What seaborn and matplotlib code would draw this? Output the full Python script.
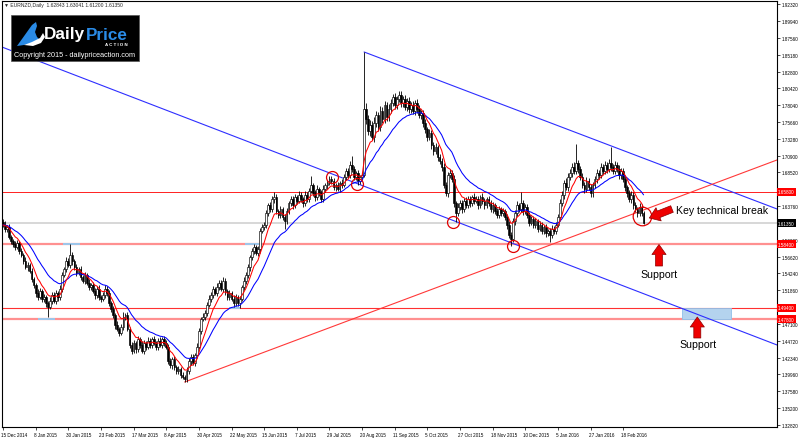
import numpy as np
import pandas as pd
import matplotlib
matplotlib.use("Agg")
import matplotlib.pyplot as plt
import seaborn as sns
from matplotlib.patches import Rectangle, Polygon
import matplotlib.transforms as mtransforms

# ---------------- data (prices in pips, 1 pip = 0.0001) ----------------
chart_title = "\u25bc EURNZD,Daily  1.62843 1.63041 1.61200 1.61350"
first_open = 16150
closes = [
    16110, 16055, 16080, 15940, 15885, 15840, 15800, 15855, 15740, 15685,
    15600, 15515, 15545, 15460, 15345, 15260, 15150, 15090, 15175, 15065,
    15090, 15005, 14950, 15035, 15120, 15035, 15150, 15090, 15205, 15400,
    15485, 15600, 15545, 15685, 15600, 15515, 15430, 15485, 15375, 15320,
    15400, 15290, 15235, 15260, 15175, 15120, 15205, 15090, 15065, 15120,
    15205, 15150, 15005, 14920, 14835, 14695, 14640, 14580, 14665, 14810,
    14835, 14640, 14415, 14330, 14440, 14355, 14495, 14415, 14330, 14440,
    14385, 14470, 14415, 14495, 14440, 14385, 14470, 14415, 14495, 14440,
    14385, 14185, 14130, 14215, 14100, 14045, 14075, 13990, 13960, 13930,
    14045, 14185, 14245, 14160, 14270, 14385, 14610, 14780, 14810, 14865,
    14980, 15065, 15120, 15205, 15150, 15235, 15290, 15205, 15320, 15175,
    15090, 15150, 15065, 15005, 15090, 15005, 15065, 15235, 15320, 15400,
    15515, 15655, 15740, 15800, 15715, 15770, 16025, 16080, 16110, 16280,
    16390, 16335, 16475, 16505, 16305, 16250, 16335, 16220, 16165, 16305,
    16420, 16475, 16390, 16505, 16450, 16535, 16475, 16420, 16535, 16475,
    16590, 16675, 16560, 16505, 16620, 16560, 16475, 16620, 16675, 16705,
    16760, 16730, 16645, 16675, 16620, 16705, 16675, 16790, 16875, 16815,
    16960, 16900, 16790, 16845, 16730, 16790, 16815, 17750, 17610, 17440,
    17525, 17355, 17550, 17665, 17495, 17720, 17610, 17805, 17635, 17750,
    17835, 17920, 17805, 17890, 17950, 17835, 17890, 17780, 17865, 17750,
    17805, 17720, 17835, 17750, 17665, 17695, 17550, 17465, 17355, 17410,
    17240, 17155, 17210, 17070, 17015, 16930, 16675, 16560, 16815, 16845,
    16760, 16420, 16280, 16365, 16420, 16335, 16450, 16390, 16475, 16420,
    16505, 16450, 16475, 16390, 16505, 16450, 16390, 16475, 16420, 16335,
    16390, 16305, 16250, 16335, 16280, 16305, 16220, 16110, 15970, 15910,
    16165, 16280, 16390, 16335, 16420, 16305, 16365, 16250, 16140, 16195,
    16110, 16165, 16055, 16110, 16025, 16080, 15995, 16025, 15970, 16055,
    16025, 16110, 16220, 16420, 16535, 16705, 16645, 16790, 16845, 16930,
    16875, 16985, 16900, 16790, 16675, 16620, 16730, 16645, 16560, 16675,
    16760, 16845, 16815, 16930, 16875, 16960, 16900, 16985, 16930, 16875,
    16960, 16900, 16815, 16875, 16760, 16645, 16560, 16475, 16535, 16390,
    16335, 16280, 16365, 16284, 16135,
]
upper_wick = [
    40, 55, 30, 45, 35, 25, 50, 40, 30, 45,
    35, 50, 40, 30, 45, 35, 25, 60, 40, 30,
    45, 35, 30, 50, 40, 35, 45, 30, 55, 40,
    35, 50, 45, 155, 40, 30, 45, 35, 50, 30,
    40, 35, 55, 30, 45, 40, 35, 50, 30, 45,
    60, 35, 40, 30, 45, 35, 50, 30, 40, 70,
    35, 45, 30, 40, 50, 35, 45, 30, 55, 40,
    35, 50, 40, 30, 45, 35, 40, 55, 30, 45,
    40, 35, 50, 30, 45, 35, 40, 30, 45, 35,
    50, 40, 35, 45, 30, 55, 40, 35, 50, 45,
    35, 60, 40, 45, 30, 50, 35, 45, 55, 40,
    35, 45, 30, 50, 40, 35, 45, 30, 55, 40,
    45, 35, 50, 40, 30, 45, 35, 50, 40, 45,
    35, 50, 40, 70, 45, 30, 50, 35, 40, 45,
    35, 50, 40, 45, 30, 55, 40, 35, 50, 45,
    40, 127, 35, 45, 50, 30, 40, 55, 35, 45,
    40, 42, 50, 35, 45, 30, 50, 40, 35, 45,
    50, 125, 40, 35, 45, 30, 40, 806, 90, 60,
    70, 50, 80, 60, 45, 70, 55, 60, 40, 65,
    50, 45, 60, 40, 54, 55, 45, 60, 40, 50,
    45, 55, 40, 50, 60, 45, 40, 55, 35, 50,
    45, 40, 55, 35, 50, 40, 60, 45, 50, 56,
    40, 55, 35, 50, 40, 45, 35, 50, 40, 45,
    35, 50, 40, 45, 30, 55, 40, 35, 50, 40,
    45, 35, 50, 40, 30, 45, 35, 40, 50, 35,
    45, 40, 55, 35, 156, 40, 45, 35, 50, 40,
    35, 45, 30, 50, 40, 35, 45, 30, 40, 50,
    35, 45, 40, 55, 60, 45, 70, 50, 60, 55,
    65, 270, 50, 45, 60, 40, 55, 45, 50, 40,
    45, 55, 40, 50, 45, 60, 40, 55, 227, 45,
    50, 40, 55, 45, 40, 50, 35, 45, 55, 40,
    45, 35, 50, 40, 20,
]
lower_wick = [
    35, 45, 40, 30, 50, 35, 40, 30, 45, 35,
    40, 30, 50, 35, 45, 40, 55, 35, 30, 45,
    40, 50, 142, 35, 45, 30, 40, 50, 35, 45,
    30, 40, 35, 45, 50, 35, 40, 30, 45, 35,
    50, 35, 40, 45, 30, 50, 40, 35, 45, 30,
    40, 50, 35, 45, 40, 55, 35, 45, 30, 40,
    50, 35, 45, 40, 30, 55, 40, 45, 35, 50,
    40, 35, 45, 50, 30, 40, 45, 35, 50, 40,
    35, 45, 40, 50, 35, 40, 45, 50, 35, 41,
    45, 40, 50, 35, 45, 40, 30, 45, 35, 40,
    45, 35, 50, 40, 30, 45, 40, 35, 45, 50,
    40, 45, 35, 50, 40, 45, 70, 35, 40, 45,
    35, 50, 40, 45, 35, 40, 50, 35, 45, 40,
    45, 40, 35, 50, 45, 40, 35, 45, 112, 40,
    45, 35, 50, 40, 45, 35, 40, 50, 35, 45,
    40, 35, 45, 50, 40, 45, 35, 40, 45, 50,
    35, 45, 40, 50, 35, 45, 40, 35, 45, 40,
    45, 35, 40, 45, 50, 41, 35, 30, 70, 60,
    65, 50, 70, 55, 60, 50, 65, 55, 60, 50,
    55, 45, 60, 50, 45, 55, 50, 45, 60, 50,
    55, 45, 50, 60, 45, 55, 60, 50, 55, 45,
    50, 55, 45, 60, 50, 55, 45, 41, 50, 45,
    40, 50, 128, 45, 40, 50, 35, 45, 40, 50,
    45, 40, 35, 50, 45, 40, 50, 35, 45, 40,
    50, 45, 40, 35, 50, 45, 40, 55, 45, 98,
    45, 50, 40, 45, 35, 50, 40, 45, 50, 35,
    45, 40, 50, 35, 45, 40, 50, 45, 101, 40,
    45, 40, 35, 50, 45, 55, 40, 50, 45, 55,
    50, 45, 55, 50, 45, 55, 50, 45, 55, 50,
    45, 50, 55, 45, 50, 40, 55, 45, 50, 45,
    50, 45, 55, 50, 45, 55, 50, 45, 55, 50,
    45, 55, 50, 45, 15,
]
date_labels = ["15 Dec 2014", "8 Jan 2015", "30 Jan 2015", "23 Feb 2015", "17 Mar 2015",
               "8 Apr 2015", "30 Apr 2015", "22 May 2015", "15 Jun 2015", "7 Jul 2015",
               "29 Jul 2015", "20 Aug 2015", "11 Sep 2015", "5 Oct 2015", "27 Oct 2015",
               "18 Nov 2015", "10 Dec 2015", "5 Jan 2016", "27 Jan 2016", "18 Feb 2016"]
bars_per_label = 16
price_tick_labels = ["1.32820", "1.35200", "1.37580", "1.39960", "1.42340", "1.44720",
                     "1.47100", "1.49480", "1.51860", "1.54240", "1.56620", "1.59000",
                     "1.61380", "1.63760", "1.66140", "1.68520", "1.70900", "1.73280",
                     "1.75660", "1.78040", "1.80420", "1.82800", "1.85180", "1.87560",
                     "1.89940", "1.92320"]
# tick labels hidden behind the level boxes on the price scale
hidden_tick_labels = ["1.49480", "1.61380", "1.66140"]
resistance_level = 1.6580
support_levels = [1.5840, 1.4780]
minor_levels = [1.4940]
current_price = 1.6135
ema_fast_span = 8
ema_slow_span = 21
# trend lines as (bar index, price) anchor pairs
channel_lower = [(-0.5, 1.8626), (379.4, 1.4413)]
channel_upper = [(177, 1.8556), (379.4, 1.6336)]
rising_support = [(89, 1.3889), (379.4, 1.7029)]
# touch points circled on chart (bar index, price)
touch_points = [(161.3, 1.6788), (173.5, 1.6689), (220.6, 1.6152), (250.0, 1.5812)]
break_point = (313.1, 1.6241)
# support zones (bar start, bar end, price low, price high)
zones_small = [(17.2, 25.5, 1.4765, 1.4795), (29.4, 37.7, 1.5825, 1.5855),
               (111.0, 116.2, 1.4925, 1.4955), (118.6, 127.0, 1.5825, 1.5855)]
zone_target = (332.7, 356.7, 1.4780, 1.4940)

# ---------------- derived OHLC ----------------
c = np.array(closes, dtype=float) / 1e4
o = np.r_[first_open, closes[:-1]].astype(float) / 1e4
h = np.maximum(o, c) + np.array(upper_wick) / 1e4
l = np.minimum(o, c) - np.array(lower_wick) / 1e4
idx = np.arange(len(c))
ema_fast = pd.Series(c).ewm(span=ema_fast_span, adjust=False).mean()
ema_slow = pd.Series(c).ewm(span=ema_slow_span, adjust=False).mean()

# ---------------- figure ----------------
sns.set_theme(style="white")
plt.rcParams["font.family"] = ["Liberation Sans", "DejaVu Sans"]
W, H = 800, 439
fig = plt.figure(figsize=(W / 100, H / 100), dpi=100)
ax = fig.add_axes([2 / W, 11 / H, 775 / W, 426 / H])
ax.set_facecolor("white")
ax.set_xlim(-0.5, 379.4)
ax.set_ylim(1.3253, 1.9277)

# levels
ax.axhline(current_price, color="#D4D4D4", lw=1.3, zorder=1)
ax.axhline(resistance_level, color="#FF2020", lw=0.7, zorder=1)
for lv in minor_levels:
    ax.axhline(lv, color="#FF3030", lw=0.8, zorder=1)
for lv in support_levels:
    ax.axhline(lv, color="#FF9090", lw=1.6, zorder=1)

# zones
for b0, b1, p0, p1 in zones_small:
    ax.add_patch(Rectangle((b0, p0), b1 - b0, p1 - p0, color="#9DC6EA", lw=0, zorder=1.5))
b0, b1, p0, p1 = zone_target
ax.add_patch(Rectangle((b0, p0), b1 - b0, p1 - p0, facecolor="#B4D3EE", edgecolor="#8EC0EA",
                       lw=0.6, zorder=1.5))

# trend lines
for pts, col in [(channel_lower, "#2E2EFF"), (channel_upper, "#2E2EFF"), (rising_support, "#FF3838")]:
    (x0, y0), (x1, y1) = pts
    ax.plot([x0, x1], [y0, y1], color=col, lw=0.8, zorder=2)

# candles
bull = c >= o
ax.vlines(idx, l, h, color="black", lw=0.6, zorder=3)
ax.bar(idx, np.maximum(np.abs(c - o), 0.0005), bottom=np.minimum(o, c), width=0.85,
       color=np.where(bull, "white", "black"), edgecolor="black", linewidth=0.45, zorder=3.1)

# moving averages
sns.lineplot(x=idx, y=ema_slow.values, color="#0000FF", lw=0.75, ax=ax, zorder=4)
sns.lineplot(x=idx, y=ema_fast.values, color="#FF0000", lw=0.75, ax=ax, zorder=4.1)

# circles
for bx, py in touch_points:
    ax.plot(bx, py, marker="o", ms=8.6, mfc="none", mec="#E00000", mew=0.9, zorder=5)
ax.plot(break_point[0], break_point[1], marker="o", ms=13.4, mfc="none", mec="#E00000", mew=0.9, zorder=5)

# axes styling
for s in ax.spines.values():
    s.set_color("black")
    s.set_linewidth(0.8)
ax.yaxis.tick_right()
ax.set_yticks([float(t) for t in price_tick_labels])
ax.set_yticklabels(["" if t in hidden_tick_labels else t for t in price_tick_labels])
ax.set_xticks(np.arange(len(date_labels)) * bars_per_label)
ax.set_xticklabels(date_labels)
ax.tick_params(axis="y", which="major", right=True, left=False, length=2, width=0.5,
               pad=1.2, labelsize=3.3, colors="black")
ax.tick_params(axis="x", which="major", bottom=True, length=2, width=0.5, pad=1.5,
               labelsize=3.3, colors="black")
for lab in ax.get_xticklabels():
    lab.set_ha("left")
    lab.set_transform(lab.get_transform() + mtransforms.ScaledTranslation(-2 / 100, 0, fig.dpi_scale_trans))
ax.set_xlabel("")
ax.set_ylabel("")

# price boxes on right axis
trans = mtransforms.blended_transform_factory(ax.transAxes, ax.transData)
for lv in [resistance_level, support_levels[0], minor_levels[0], support_levels[1]]:
    ax.text(1.0015, lv, f"{lv:.5f}", transform=trans, fontsize=3.3, color="white", va="center",
            ha="left", clip_on=False, zorder=6,
            bbox=dict(boxstyle="square,pad=0.3", fc="#FF0000", ec="none"))
ax.text(1.0015, current_price, f"{current_price:.5f}", transform=trans, fontsize=3.3, color="white",
        va="center", ha="left", clip_on=False, zorder=6,
        bbox=dict(boxstyle="square,pad=0.3", fc="black", ec="none"))

# title
def fx(x):
    return x / W
def fy(y):
    return 1 - y / H

fig.text(fx(4), fy(6), chart_title, fontsize=3.6, va="center", ha="left",
         family=["Liberation Sans", "DejaVu Sans"])

# logo
fig.add_artist(Rectangle((fx(11), fy(62)), 128 / W, 46 / H, transform=fig.transFigure,
                         facecolor="black", edgecolor="#555555", lw=0.5, zorder=10))
sw = [(17, 47), (22, 40), (27, 33), (32, 26), (36, 23), (37, 27), (35, 33), (37, 38), (41, 42), (33, 44), (24, 46)]
fig.add_artist(Polygon([(fx(a), fy(b)) for a, b in sw], closed=True, transform=fig.transFigure,
                       facecolor="#2A8BE6", edgecolor="none", zorder=11))
sw2 = [(24, 46), (32, 43), (40, 39), (43, 34), (45, 38), (41, 44), (33, 47)]
fig.add_artist(Polygon([(fx(a), fy(b)) for a, b in sw2], closed=True, transform=fig.transFigure,
                       facecolor="white", edgecolor="none", zorder=11))
fig.text(fx(44), fy(35), "Daily", fontsize=12.3, fontweight="bold", color="white", va="center",
         ha="left", zorder=12)
fig.text(fx(86), fy(35), "Price", fontsize=12.3, fontweight="bold", color="#2A8BE6", va="center",
         ha="left", zorder=12)
fig.text(fx(128), fy(45.5), "A C T I O N", fontsize=3.2, fontweight="bold", color="white", va="center",
         ha="right", zorder=12)
fig.text(fx(75), fy(55.5), "Copyright 2015 - dailypriceaction.com", fontsize=5.2, color="white",
         va="center", ha="center", zorder=12)

# annotations
fig.text(fx(676), fy(211), "Key technical break", fontsize=7.6, color="black", va="center", ha="left")
fig.text(fx(659), fy(275), "Support", fontsize=7.6, color="black", va="center", ha="center")
fig.text(fx(698), fy(345), "Support", fontsize=7.6, color="black", va="center", ha="center")
arrow_style = dict(arrowstyle="simple,head_length=0.6,head_width=0.85,tail_width=0.42",
                   fc="#EE0000", ec="#8B0000", lw=0.5, shrinkA=0, shrinkB=0)
for tip, tail in [((649.3, 219), (672, 210)), ((659, 245.5), (659, 267)), ((697.3, 318), (697.3, 339))]:
    ax.annotate("", xy=(tip[0], H - tip[1]), xytext=(tail[0], H - tail[1]),
                xycoords="figure pixels", textcoords="figure pixels",
                arrowprops=arrow_style, annotation_clip=False, zorder=7)

fig.savefig("out.png", dpi=100, facecolor="white")
